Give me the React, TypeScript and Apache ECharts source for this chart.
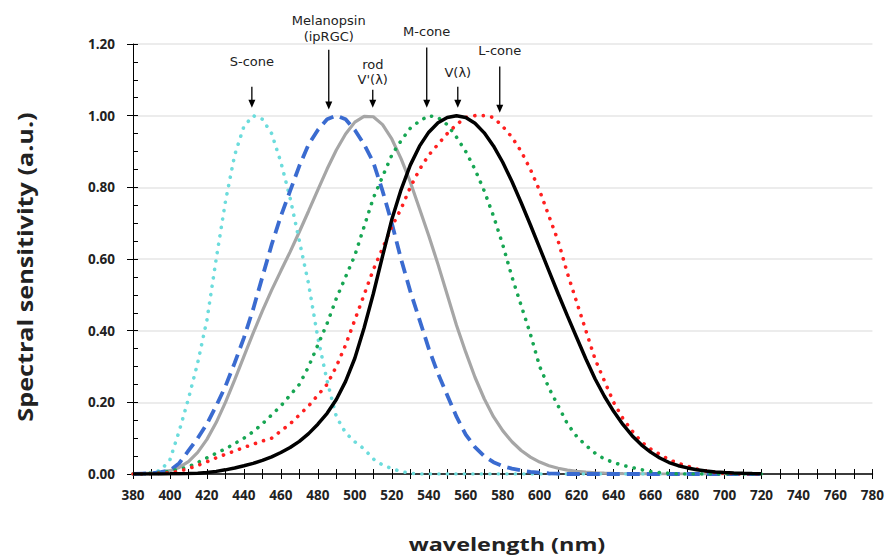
import React, { useEffect, useRef } from "react";
import * as echarts from "echarts";

const wavelengths = [
  380, 385, 390, 395, 400, 405, 410, 415, 420, 425, 430, 435, 440, 445, 450, 455, 460, 465, 470, 475,
  480, 485, 490, 495, 500, 505, 510, 515, 520, 525, 530, 535, 540, 545, 550, 555, 560, 565, 570, 575,
  580, 585, 590, 595, 600, 605, 610, 615, 620, 625, 630, 635, 640, 645, 650, 655, 660, 665, 670, 675,
  680, 685, 690, 695, 700, 705, 710, 715, 720,
];

const sCone = [
  0, 0, 0.003, 0.01, 0.04, 0.12, 0.21, 0.31, 0.43, 0.6, 0.76, 0.89, 0.97, 1.0, 0.99, 0.95, 0.87, 0.77, 0.65, 0.53,
  0.38, 0.26, 0.16, 0.115, 0.09, 0.07, 0.042, 0.025, 0.015, 0.007, 0.002, 0, 0, 0, 0, 0, 0, 0, 0, 0,
  0, 0, 0, 0, 0, 0, 0, 0, 0, 0, 0, 0, 0, 0, 0, 0, 0, 0, 0, 0,
  0, 0, 0, 0, 0, 0, 0, 0, 0,
];

const melanopsin = [
  0, 0.001, 0.002, 0.005, 0.01, 0.03, 0.065, 0.1, 0.14, 0.19, 0.245, 0.31, 0.38, 0.46, 0.55, 0.64, 0.72, 0.79, 0.86, 0.92,
  0.96, 0.99, 1.0, 0.99, 0.96, 0.92, 0.87, 0.79, 0.7, 0.6, 0.51, 0.43, 0.35, 0.28, 0.22, 0.16, 0.11, 0.075, 0.05, 0.033,
  0.022, 0.015, 0.01, 0.006, 0.004, 0.002, 0.001, 0, 0, 0, 0, 0, 0, 0, 0, 0, 0, 0, 0, 0,
  0, 0, 0, 0, 0, 0, 0, 0, 0,
];

const rod = [
  0.0006, 0.0011, 0.0022, 0.0045, 0.0093, 0.0185, 0.0348, 0.0604, 0.0966, 0.1436, 0.1998, 0.2625, 0.3281, 0.3931, 0.455, 0.513, 0.567, 0.62, 0.676, 0.734,
  0.793, 0.851, 0.904, 0.949, 0.982, 0.998, 0.997, 0.975, 0.935, 0.88, 0.815, 0.74, 0.665, 0.585, 0.5, 0.415, 0.34, 0.27, 0.21, 0.16,
  0.121, 0.09, 0.0655, 0.047, 0.0332, 0.023, 0.0159, 0.011, 0.0074, 0.005, 0.0033, 0.0022, 0.0015, 0.001, 0.0007, 0.0005, 0.0003, 0, 0, 0,
  0, 0, 0, 0, 0, 0, 0, 0, 0,
];

const mCone = [
  0, 0, 0.002, 0.004, 0.008, 0.013, 0.02, 0.032, 0.045, 0.058, 0.07, 0.085, 0.1, 0.118, 0.14, 0.165, 0.19, 0.22, 0.25, 0.3,
  0.36, 0.42, 0.49, 0.55, 0.61, 0.69, 0.77, 0.83, 0.89, 0.93, 0.965, 0.985, 1.0, 0.995, 0.975, 0.94, 0.9, 0.85, 0.79, 0.72,
  0.64, 0.55, 0.47, 0.39, 0.3, 0.24, 0.19, 0.14, 0.105, 0.08, 0.058, 0.042, 0.032, 0.024, 0.018, 0.012, 0.007, 0.004, 0.002, 0,
  0, 0, 0, 0, 0, 0, 0, 0, 0,
];

const lCone = [
  0, 0, 0.001, 0.002, 0.004, 0.008, 0.015, 0.024, 0.034, 0.045, 0.055, 0.064, 0.074, 0.083, 0.092, 0.1, 0.12, 0.14, 0.165, 0.19,
  0.22, 0.25, 0.3, 0.36, 0.43, 0.5, 0.57, 0.63, 0.69, 0.74, 0.8, 0.85, 0.89, 0.92, 0.95, 0.975, 0.995, 1.0, 1.0, 0.995,
  0.97, 0.94, 0.9, 0.85, 0.79, 0.72, 0.65, 0.56, 0.48, 0.4, 0.32, 0.26, 0.2, 0.155, 0.12, 0.09, 0.07, 0.055, 0.04, 0.03,
  0.022, 0.014, 0.008, 0.004, 0.002, 0.001, 0, 0, 0,
];

const vLambda = [
  0.00004, 0.00006, 0.00012, 0.00022, 0.0004, 0.00064, 0.0012, 0.00218, 0.004, 0.0073, 0.0116, 0.01684, 0.023, 0.0298, 0.038, 0.048, 0.06, 0.0739, 0.091, 0.1126,
  0.139, 0.1693, 0.208, 0.2586, 0.323, 0.4073, 0.503, 0.6082, 0.71, 0.7932, 0.862, 0.9149, 0.954, 0.9803, 0.995, 1.0, 0.995, 0.9786, 0.952, 0.9154,
  0.87, 0.8163, 0.757, 0.6949, 0.631, 0.5668, 0.503, 0.4412, 0.381, 0.321, 0.265, 0.217, 0.175, 0.1382, 0.107, 0.0816, 0.061, 0.0446, 0.032, 0.0232,
  0.017, 0.0119, 0.0082, 0.0057, 0.0041, 0.0029, 0.0021, 0.0015, 0.001,
];

const yTicks = [0, 0.2, 0.4, 0.6, 0.8, 1.0, 1.2];

// annotations: label lines, wavelength, label centre value, arrow top value, arrow tip value
const annoLabels = [["S-cone"], ["Melanopsin", "(ipRGC)"], ["rod", "V'(λ)"], ["M-cone"], ["V(λ)"], ["L-cone"]];
const annoX = [444.3, 485.9, 509.7, 538.9, 555.7, 578.4];
const annoLabelY = [1.151, 1.243, 1.1215, 1.2346, 1.12, 1.1816];
const annoTop = [1.081, 1.184, 1.0726, 1.19, 1.081, 1.137];
const annoTip = [1.022, 1.017, 1.022, 1.022, 1.022, 1.008];

const FONT = "'Open Sans', 'Noto Sans', sans-serif";
const ANNO_FONT = "'DejaVu Sans', sans-serif";

function toPairs(arr: number[]) {
  return wavelengths.map((w, i) => [w, arr[i]]);
}

export default function App() {
  const ref = useRef<HTMLDivElement>(null);
  useEffect(() => {
    document.body.style.margin = "0";
    const chart = echarts.init(ref.current!, undefined, { renderer: "svg" });
    const dot = (color: string) => ({
      color,
      width: 3.6,
      type: [0.1, 8.4],
      cap: "round",
    });
    const option: any = {
      animation: false,
      backgroundColor: "#ffffff",
      grid: { left: 133, right: 14, top: 44, bottom: 85 },
      xAxis: [
        {
          type: "value",
          min: 380,
          max: 780,
          interval: 10,
          axisLine: { lineStyle: { color: "#000", width: 1.6 } },
          axisTick: { length: 5, lineStyle: { color: "#000", width: 1 } },
          axisLabel: {
            formatter: (v: number) => (Math.round(v) % 20 === 0 ? String(Math.round(v)) : ""),
            margin: 14,
            fontSize: 13.5,
            fontWeight: "bold",
            color: "#222",
            fontFamily: FONT,
          },
          splitLine: { show: false },
        },
        {
          type: "value",
          min: 380,
          max: 780,
          interval: 10,
          position: "bottom",
          axisLine: { show: false },
          axisTick: { inside: true, length: 5, lineStyle: { color: "#000", width: 1 } },
          axisLabel: { show: false },
          splitLine: { show: false },
        },
      ],
      yAxis: [
        {
          type: "value",
          min: 0,
          max: 1.2,
          interval: 0.2,
          axisLine: { show: true, lineStyle: { color: "#000", width: 1 } },
          axisTick: { show: true, length: 6, lineStyle: { color: "#000" } },
          axisLabel: {
            formatter: (v: number) => {
              const t = yTicks.find((k) => Math.abs(k - v) < 1e-6);
              return (t !== undefined ? t : v).toFixed(2);
            },
            margin: 18,
            fontSize: 13.5,
            fontWeight: "bold",
            color: "#222",
            fontFamily: FONT,
          },
          splitLine: { lineStyle: { color: "#e6e6e6", width: 1.5 } },
        },
        {
          type: "value",
          min: 0,
          max: 1.2,
          interval: 0.05,
          position: "left",
          axisLine: { show: false },
          axisTick: { show: true, inside: true, length: 5, lineStyle: { color: "#000" } },
          axisLabel: { show: false },
          splitLine: { show: false },
        },
      ],
      series: [
        {
          name: "rod V'(λ)",
          type: "line",
          showSymbol: false,
          data: toPairs(rod),
          lineStyle: { color: "#a6a6a6", width: 3.2 },
          z: 2,
        },
        {
          name: "S-cone",
          type: "line",
          showSymbol: false,
          data: toPairs(sCone),
          lineStyle: dot("#6cdcdc"),
          z: 3,
        },
        {
          name: "Melanopsin",
          type: "line",
          showSymbol: false,
          data: toPairs(melanopsin),
          lineStyle: { color: "#3a6bd0", width: 3.8, type: [13, 7] },
          z: 4,
        },
        {
          name: "M-cone",
          type: "line",
          showSymbol: false,
          data: toPairs(mCone),
          lineStyle: dot("#17a653"),
          z: 5,
        },
        {
          name: "L-cone",
          type: "line",
          showSymbol: false,
          data: toPairs(lCone),
          lineStyle: dot("#ff2020"),
          z: 6,
        },
        {
          name: "V(λ)",
          type: "line",
          showSymbol: false,
          data: toPairs(vLambda),
          lineStyle: { color: "#000", width: 3.5 },
          z: 7,
        },
      ],
    };
    chart.setOption(option);

    const graphics: any[] = [];
    annoLabels.forEach((lines, i) => {
      const [lx, ly] = chart.convertToPixel({ gridIndex: 0 }, [annoX[i], annoLabelY[i]]) as number[];
      const [ax, top] = chart.convertToPixel({ gridIndex: 0 }, [annoX[i], annoTop[i]]) as number[];
      const [, tip] = chart.convertToPixel({ gridIndex: 0 }, [annoX[i], annoTip[i]]) as number[];
      const step = 15.5;
      lines.forEach((line, j) => {
        graphics.push({
          type: "text",
          x: lx,
          y: ly + (j - (lines.length - 1) / 2) * step,
          style: {
            text: line,
            fontSize: 13,
            fontFamily: ANNO_FONT,
            fill: "#222",
            align: "center",
            verticalAlign: "middle",
          },
          z: 20,
        });
      });
      graphics.push({
        type: "line",
        shape: { x1: ax, y1: top, x2: ax, y2: tip - 6 },
        style: { stroke: "#000", lineWidth: 1.3 },
        z: 20,
      });
      graphics.push({
        type: "polygon",
        shape: { points: [[ax - 3.5, tip - 8], [ax + 3.5, tip - 8], [ax, tip]] },
        style: { fill: "#000" },
        z: 20,
      });
    });
    graphics.push({
      type: "text",
      x: 25,
      y: 267,
      rotation: Math.PI / 2,
      scaleX: 1.2,
      style: {
        text: "Spectral sensitivity (a.u.)",
        fontSize: 21,
        fontWeight: "bold",
        fontFamily: FONT,
        fill: "#222",
        align: "center",
        verticalAlign: "middle",
      },
    });
    graphics.push({
      type: "text",
      x: 507,
      y: 544,
      scaleX: 1.3,
      style: {
        text: "wavelength (nm)",
        fontSize: 18,
        fontWeight: "bold",
        fontFamily: FONT,
        fill: "#222",
        align: "center",
        verticalAlign: "middle",
      },
    });
    chart.setOption({ graphic: graphics });

    return () => chart.dispose();
  }, []);
  return <div ref={ref} style={{ width: 887, height: 559 }} />;
}
